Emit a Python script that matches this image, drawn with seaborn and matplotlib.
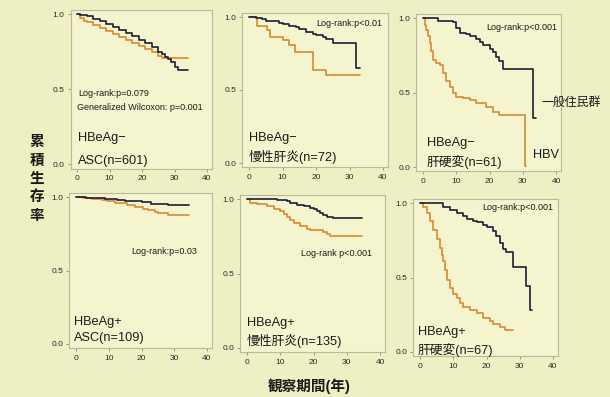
import matplotlib
matplotlib.use("Agg")
import matplotlib.pyplot as plt
import numpy as np
import pandas as pd
import seaborn as sns

# ---- survival curves (years, cumulative survival) ----
# HBeAg- ASC
t_asc_neg_gen = [0, 1, 3, 5, 7, 9, 11, 13, 15, 17, 19, 21, 23, 25, 26, 27, 28, 29, 30, 31, 34]
s_asc_neg_gen = [1.0, 0.995, 0.985, 0.97, 0.955, 0.935, 0.915, 0.895, 0.875, 0.855, 0.83,
                 0.805, 0.78, 0.75, 0.735, 0.715, 0.70, 0.68, 0.65, 0.625, 0.625]
t_asc_neg_hbv = [0, 1, 2, 3, 5, 7, 9, 11, 13, 15, 17, 19, 21, 23, 25, 26, 34]
s_asc_neg_hbv = [1.0, 0.975, 0.955, 0.945, 0.925, 0.905, 0.885, 0.865, 0.845, 0.825, 0.805,
                 0.785, 0.765, 0.745, 0.72, 0.705, 0.705]
# HBeAg- chronic hepatitis
t_ch_neg_gen = [0, 2, 4, 5, 7, 9, 10, 12, 14, 15, 17, 19, 20, 22, 23, 25, 32, 33]
s_ch_neg_gen = [1.0, 0.99, 0.985, 0.975, 0.97, 0.96, 0.955, 0.94, 0.93, 0.92, 0.90, 0.885,
                0.875, 0.86, 0.85, 0.82, 0.65, 0.65]
t_ch_neg_hbv = [0, 2.5, 5.5, 6.2, 10, 12, 13.7, 19, 23, 33]
s_ch_neg_hbv = [1.0, 0.94, 0.91, 0.86, 0.84, 0.81, 0.76, 0.64, 0.60, 0.60]
# HBeAg- cirrhosis
t_lc_neg_gen = [0, 4.5, 9, 10, 11, 13, 14, 16, 17, 18, 20, 21, 22, 23, 24, 33, 34]
s_lc_neg_gen = [1.0, 0.98, 0.97, 0.93, 0.90, 0.89, 0.88, 0.86, 0.84, 0.82, 0.79, 0.77,
                0.74, 0.71, 0.66, 0.33, 0.33]
t_lc_neg_hbv = [0, 0.5, 1, 1.5, 2, 2.5, 3, 4, 5, 6, 7, 8, 9, 10, 12, 14, 16, 19, 21, 23, 30.8, 31]
s_lc_neg_hbv = [1.0, 0.95, 0.92, 0.88, 0.83, 0.78, 0.72, 0.70, 0.685, 0.63, 0.58, 0.54,
                0.50, 0.47, 0.46, 0.45, 0.43, 0.40, 0.37, 0.35, 0.01, 0.01]
# HBeAg+ ASC
t_asc_pos_gen = [0, 3, 6, 9, 12.5, 15, 17.5, 20, 23, 25, 28, 34.5]
s_asc_pos_gen = [1.0, 0.995, 0.99, 0.985, 0.98, 0.975, 0.97, 0.965, 0.955, 0.952, 0.948, 0.945]
t_asc_pos_hbv = [0, 2, 5, 8, 9.5, 12, 15.5, 18, 20.5, 22, 24, 25, 28, 34.5]
s_asc_pos_hbv = [1.0, 0.99, 0.985, 0.98, 0.975, 0.96, 0.945, 0.935, 0.92, 0.91, 0.90,
                 0.89, 0.88, 0.875]
# HBeAg+ chronic hepatitis
t_ch_pos_gen = [0, 6, 9, 11, 12, 13, 15, 17, 19, 20, 21, 22, 23, 24, 26, 34.5]
s_ch_pos_gen = [1.0, 0.998, 0.995, 0.99, 0.985, 0.975, 0.96, 0.95, 0.94, 0.93, 0.92,
                0.905, 0.895, 0.88, 0.87, 0.87]
t_ch_pos_hbv = [0, 1, 3, 6, 8, 10, 11, 12, 13, 14, 16, 18, 19, 23, 24, 25, 34.5]
s_ch_pos_hbv = [1.0, 0.975, 0.965, 0.95, 0.935, 0.92, 0.90, 0.88, 0.86, 0.84, 0.82,
                0.80, 0.79, 0.78, 0.765, 0.75, 0.75]
# HBeAg+ cirrhosis
t_lc_pos_gen = [0, 6, 7, 9, 11, 13, 14, 16, 17, 19, 20, 22, 23, 24, 25, 26, 28, 32, 33, 33.7]
s_lc_pos_gen = [1.0, 1.0, 0.975, 0.95, 0.93, 0.91, 0.895, 0.88, 0.87, 0.855, 0.84, 0.81,
                0.78, 0.73, 0.69, 0.67, 0.57, 0.44, 0.28, 0.28]
t_lc_pos_hbv = [0, 1, 2, 3, 4, 5, 6, 6.5, 7, 7.5, 8, 9, 10, 11, 12, 13, 15, 17, 19, 21,
                22, 24, 25.5, 28]
s_lc_pos_hbv = [1.0, 0.97, 0.93, 0.88, 0.82, 0.76, 0.70, 0.65, 0.61, 0.55, 0.48, 0.43,
                0.39, 0.36, 0.33, 0.30, 0.28, 0.26, 0.23, 0.21, 0.19, 0.17, 0.145, 0.145]

panel_titles = [("HBeAg−", "ASC(n=601)"), ("HBeAg−", "慢性肝炎(n=72)"), ("HBeAg−", "肝硬変(n=61)"),
                ("HBeAg+", "ASC(n=109)"), ("HBeAg+", "慢性肝炎(n=135)"), ("HBeAg+", "肝硬変(n=67)")]
pvalue_texts = ["Log-rank:p=0.079", "Log-rank:p<0.01", "Log-rank:p<0.001",
                "Log-rank:p=0.03", "Log-rank p<0.001", "Log-rank:p<0.001"]
x_ticks = [0, 10, 20, 30, 40]
y_ticks = [0.0, 0.5, 1.0]
y_ticklabels = ["0.0", "0.5", "1.0"]

curves = [
    (t_asc_neg_gen, s_asc_neg_gen, t_asc_neg_hbv, s_asc_neg_hbv),
    (t_ch_neg_gen, s_ch_neg_gen, t_ch_neg_hbv, s_ch_neg_hbv),
    (t_lc_neg_gen, s_lc_neg_gen, t_lc_neg_hbv, s_lc_neg_hbv),
    (t_asc_pos_gen, s_asc_pos_gen, t_asc_pos_hbv, s_asc_pos_hbv),
    (t_ch_pos_gen, s_ch_pos_gen, t_ch_pos_hbv, s_ch_pos_hbv),
    (t_lc_pos_gen, s_lc_pos_gen, t_lc_pos_hbv, s_lc_pos_hbv),
]

rows = []
for i, (tg, sg, th, sh) in enumerate(curves):
    for t, s in zip(tg, sg):
        rows.append((i, "一般住民群", t, s))
    for t, s in zip(th, sh):
        rows.append((i, "HBV", t, s))
df = pd.DataFrame(rows, columns=["panel", "group", "year", "surv"])

sns.set_theme(style="white")
LAT = ["Liberation Sans", "DejaVu Sans"]
JP = ["Liberation Sans", "Noto Sans CJK JP", "DejaVu Sans"]
plt.rcParams["font.family"] = JP

W, H = 610, 397
BG = "#eeefc3"
FACE = "#f4f4cf"
palette = {"一般住民群": "#1c1c36", "HBV": "#d88a30"}

fig = plt.figure(figsize=(W / 100, H / 100), dpi=100, facecolor=BG)

# pixel anchors of each panel: x=0, x=40, y=1.0, y=0.0
anchors = [(77, 207, 14, 164), (249, 383, 17, 163), (423, 556, 18, 167),
           (76, 207, 197, 344), (247, 380, 199, 348), (420, 553, 203, 352)]
XL = (-2.0, 41.5)
YL = (-0.03, 1.03)


def fx(x):
    return x / W


def fy(y):
    return 1 - y / H


axes = []
for (x0, x40, y1, y0) in anchors:
    sx = (x40 - x0) / 40.0
    sy = (y0 - y1)
    left = x0 + XL[0] * sx
    right = x0 + XL[1] * sx
    top = y0 - YL[1] * sy
    bottom = y0 - YL[0] * sy
    ax = fig.add_axes([fx(left), fy(bottom), (right - left) / W, (bottom - top) / H])
    axes.append(ax)

for i, ax in enumerate(axes):
    sub = df[df["panel"] == i]
    sns.lineplot(data=sub, x="year", y="surv", hue="group", palette=palette,
                 hue_order=["HBV", "一般住民群"], estimator=None, sort=False,
                 drawstyle="steps-post", linewidth=1.2, legend=False, ax=ax)
    ax.set_facecolor(FACE)
    ax.set_xlim(*XL)
    ax.set_ylim(*YL)
    ax.set_xticks(x_ticks)
    ax.set_yticks(y_ticks)
    ax.set_yticklabels(y_ticklabels)
    ax.set_xlabel("")
    ax.set_ylabel("")
    ax.tick_params(axis="both", which="both", direction="out", length=2.5, width=0.6,
                   colors="#8c8c78", labelcolor="#2a2a2a", labelsize=6, pad=2)
    ax.tick_params(left=True, bottom=True)
    for lab in ax.get_xticklabels() + ax.get_yticklabels():
        lab.set_fontfamily(LAT)
    for sp in ax.spines.values():
        sp.set_color("#b9b99c")
        sp.set_linewidth(0.8)

# panel titles (two lines each)
title_pos = [(78, 138, 161), (249, 138, 157), (427, 143, 162),
             (74, 322, 338), (247, 323, 341), (418, 332, 350)]
for (l1, l2), (x, y1, y2) in zip(panel_titles, title_pos):
    fig.text(fx(x), fy(y1), l1, fontsize=9.2, color="#1a1a1a", va="center", ha="left")
    fig.text(fx(x), fy(y2), l2, fontsize=9.2, color="#1a1a1a", va="center", ha="left")

# test statistics
p_pos = [(78, 94, "left"), (382, 24, "right"), (557, 27, "right"),
         (197, 252, "right"), (372, 254, "right"), (553, 207, "right")]
for txt, (x, y, ha) in zip(pvalue_texts, p_pos):
    fig.text(fx(x), fy(y), txt, fontsize=6.5, color="#1a1a1a", va="center", ha=ha,
             family=LAT)
fig.text(fx(77), fy(107), "Generalized Wilcoxon: p=0.001", fontsize=6.5, color="#1a1a1a",
         va="center", ha="left", family=LAT)

# group labels in the HBeAg- cirrhosis panel
fig.text(fx(541), fy(103), "一般住民群", fontsize=8.6, color="#1a1a1a", va="center", ha="left")
fig.text(fx(533), fy(155), "HBV", fontsize=9.2, color="#1a1a1a", va="center", ha="left")

# axis titles
ylab = "累積生存率"
for k, ch in enumerate(ylab):
    fig.text(fx(37), fy(142 + k * 18.5), ch, fontsize=10.5, fontweight="bold",
             color="#1a1a1a", ha="center", va="center")
fig.text(fx(309), fy(386), "観察期間(年)", fontsize=10.5, fontweight="bold",
         color="#1a1a1a", ha="center", va="center")

fig.savefig("out.png", dpi=100, facecolor=BG)
